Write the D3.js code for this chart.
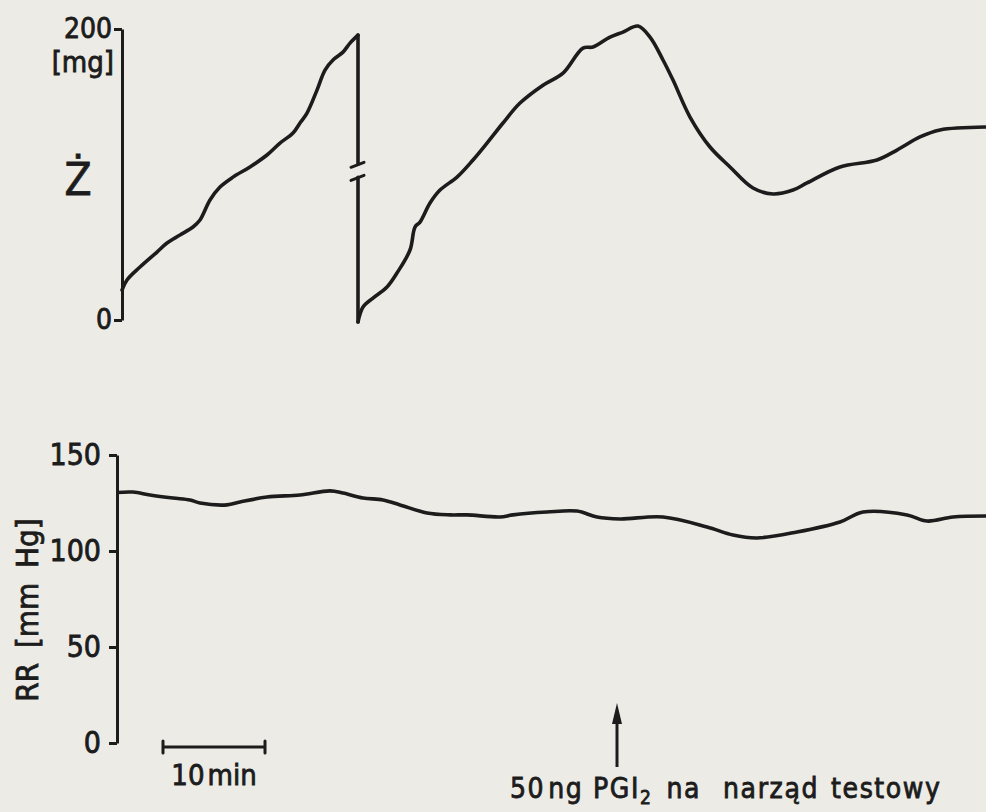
<!DOCTYPE html>
<html>
<head>
<meta charset="utf-8">
<title>Ż i RR</title>
<style>
  body { margin: 0; background: #ecebe5; }
  svg { display: block; }
  .axis .domain { stroke: #1c1c1c; stroke-width: 3; }
  .axis .tick line { stroke: #1c1c1c; stroke-width: 3; }
  .axis .tick text { fill: #1c1c1c; }
  text {
    font-family: "DejaVu Sans Condensed", "Liberation Sans Narrow", "DejaVu Sans", sans-serif;
    fill: #1c1c1c;
    stroke: #1c1c1c;
    stroke-width: 0.8px;
  }
</style>
</head>
<body>
<svg id="chart" width="986" height="812"></svg>
<script src="https://cdn.jsdelivr.net/npm/d3@7"></script>
<script>
// ---- data (time in minutes from the axis) ----
// Ż [mg], first run up to the reset
var zTime1 = [0, 0.5, 1.8, 3.5, 4.5, 5.8, 7.1, 7.8, 8.8, 9.8, 11.1, 12.8, 14.5, 15.8, 17.1, 17.8, 18.5, 19.5, 20.3, 21.1, 22.1, 22.8, 23.6];
var zVal1  = [20.6, 27.5, 36.4, 46.7, 52.9, 58.4, 63.9, 68.7, 82.5, 91.4, 98.2, 105.2, 113.4, 121.6, 128.5, 135.4, 142.2, 158, 171.8, 178.7, 184.1, 190.3, 195.8];
// Ż [mg], after the reset
var zTime2 = [23.6, 24.1, 25.1, 26.5, 27.5, 28.8, 29.3, 29.8, 30.8, 31.8, 33.5, 35.1, 36.5, 38.1, 39.8, 42.1, 44.1, 46.1, 47.1, 48.8, 50.1, 51.6, 52.8, 54.1, 55.1, 56.8, 58.8, 60.8, 63.1, 65.1, 67.1, 68.5, 71.8, 75.5, 77.5, 79.8, 81.8, 86.3];
var zVal2  = [-1.4, 8.9, 15.1, 22.7, 32.3, 48.1, 63.9, 67.3, 80.4, 89.3, 98.2, 110, 121.6, 135.4, 149.1, 161.4, 169.7, 186.9, 187.6, 194.4, 197.9, 202, 194.4, 178.7, 164.9, 139.5, 118.9, 105.2, 90.7, 86.6, 89.3, 94.2, 105.2, 110, 116.8, 125.8, 130.6, 132.6];
// reset of the recorder: vertical jump with a break between these values
var zBreak = [107, 98];

// RR [mm Hg]
var rrTime = [0, 1.6, 3.3, 5.6, 7.3, 8.3, 11, 12.3, 15, 18.3, 21.3, 22.6, 24.6, 26.6, 28.3, 31, 33.3, 35, 38.3, 39.6, 43, 46, 48, 50.3, 54.6, 59, 61.6, 64, 68, 72.3, 74.6, 79, 81, 83.6, 86.9];
var rrVal  = [130.5, 130.7, 129.2, 127.6, 126.6, 125, 124, 125.5, 128.1, 129.2, 131.3, 130.2, 127.6, 126.6, 124, 119.8, 118.8, 118.8, 117.7, 118.8, 120.3, 120.8, 117.7, 116.7, 117.7, 112.5, 108.3, 106.8, 109.9, 115.1, 120.3, 118.8, 115.6, 117.7, 118.2];

var zTicks = [0, 200];
var rrTicks = [0, 50, 100, 150];
var scaleBar = [4.6, 14.8];   // 10 min
var injectionTime = 50;       // PGI2 given

// ---- layout ----
var svg = d3.select("#chart");
var ink = "#1c1c1c";

var xTop = d3.scaleLinear().domain([0, 86.4]).range([122, 986]);
var yTop = d3.scaleLinear().domain([0, 200]).range([320, 29]);

var xBot = d3.scaleLinear().domain([0, 86.9]).range([117, 986]);
var yBot = d3.scaleLinear().domain([0, 150]).range([743, 455]);

// ---- top panel ----
svg.append("g")
  .attr("class", "axis")
  .attr("transform", "translate(" + xTop(0) + ",0)")
  .call(d3.axisLeft(yTop).tickValues(zTicks).tickSize(8).tickSizeOuter(0).tickPadding(2))
  .selectAll(".tick text")
  .style("font-size", "28px");

svg.append("text")
  .attr("x", 114).attr("y", 72)
  .attr("text-anchor", "end")
  .style("font-size", "29px")
  .text("[mg]");

svg.append("text")
  .attr("x", 78).attr("y", 195)
  .attr("text-anchor", "middle")
  .style("font-size", "44px")
  .text("Ż");

var lineTop = d3.line()
  .curve(d3.curveCatmullRom)
  .x(function(d) { return xTop(d[0]); })
  .y(function(d) { return yTop(d[1]); });

var tr1 = d3.zip(zTime1, zVal1);
var tr2 = d3.zip(zTime2, zVal2);
var tEnd = zTime1[zTime1.length - 1];

[tr1, tr2,
 [[tEnd, zVal1[zVal1.length - 1]], [tEnd, zBreak[0]]],
 [[tEnd, zBreak[1]], [tEnd, zVal2[0]]]
].forEach(function(pts) {
  svg.append("path")
    .datum(pts)
    .attr("d", lineTop)
    .attr("fill", "none")
    .attr("stroke", ink)
    .attr("stroke-width", 3.6)
    .attr("stroke-linejoin", "round")
    .attr("stroke-linecap", "round");
});

// break marks on the reset line
zBreak.forEach(function(v) {
  svg.append("line")
    .attr("x1", xTop(tEnd) - 7).attr("y1", yTop(v) + 3)
    .attr("x2", xTop(tEnd) + 6).attr("y2", yTop(v) - 2)
    .attr("stroke", ink)
    .attr("stroke-width", 3)
    .attr("stroke-linecap", "round");
});

// ---- bottom panel ----
svg.append("g")
  .attr("class", "axis")
  .attr("transform", "translate(" + xBot(0) + ",0)")
  .call(d3.axisLeft(yBot).tickValues(rrTicks).tickSize(8).tickSizeOuter(0).tickPadding(8))
  .selectAll(".tick text")
  .style("font-size", "30px");

svg.append("text")
  .attr("transform", "translate(38,610) rotate(-90)")
  .attr("text-anchor", "middle")
  .style("font-size", "31px")
  .style("word-spacing", "6px")
  .text("RR [mm Hg]");

var lineBot = d3.line()
  .curve(d3.curveCatmullRom)
  .x(function(d) { return xBot(d[0]); })
  .y(function(d) { return yBot(d[1]); });

svg.append("path")
  .datum(d3.zip(rrTime, rrVal))
  .attr("d", lineBot)
  .attr("fill", "none")
  .attr("stroke", ink)
  .attr("stroke-width", 3.6)
  .attr("stroke-linejoin", "round");

// scale bar
var barY = 747;
svg.append("line")
  .attr("x1", xBot(scaleBar[0])).attr("x2", xBot(scaleBar[1]))
  .attr("y1", barY).attr("y2", barY)
  .attr("stroke", ink).attr("stroke-width", 3);
scaleBar.forEach(function(t) {
  svg.append("line")
    .attr("x1", xBot(t)).attr("x2", xBot(t))
    .attr("y1", barY - 6).attr("y2", barY + 6)
    .attr("stroke", ink).attr("stroke-width", 3).attr("stroke-linecap", "round");
});
var barLabel = svg.append("text")
  .attr("x", (xBot(scaleBar[0]) + xBot(scaleBar[1])) / 2)
  .attr("y", 785)
  .attr("text-anchor", "middle")
  .style("font-size", "29px");
barLabel.append("tspan").text("10");
barLabel.append("tspan").attr("dx", 3).text("min");

// injection arrow
var ax = xBot(injectionTime);
svg.append("line")
  .attr("x1", ax).attr("x2", ax)
  .attr("y1", 767).attr("y2", 715)
  .attr("stroke", ink).attr("stroke-width", 3);
svg.append("path")
  .attr("d", "M" + (ax - 5) + ",724 L" + ax + ",703 L" + (ax + 5) + ",724 Z")
  .attr("fill", ink);

var note = svg.append("text")
  .attr("x", 510).attr("y", 798)
  .style("font-size", "28px")
  .style("letter-spacing", "1.6px");
note.append("tspan").text("50");
note.append("tspan").attr("dx", 3).text("ng PGI");
note.append("tspan").attr("dy", 6).style("font-size", "19px").text("2");
note.append("tspan").attr("dy", -6).attr("dx", 14).text("na");
note.append("tspan").attr("dx", 22).text("narząd");
note.append("tspan").attr("dx", 12).text("testowy");
</script>
</body>
</html>
